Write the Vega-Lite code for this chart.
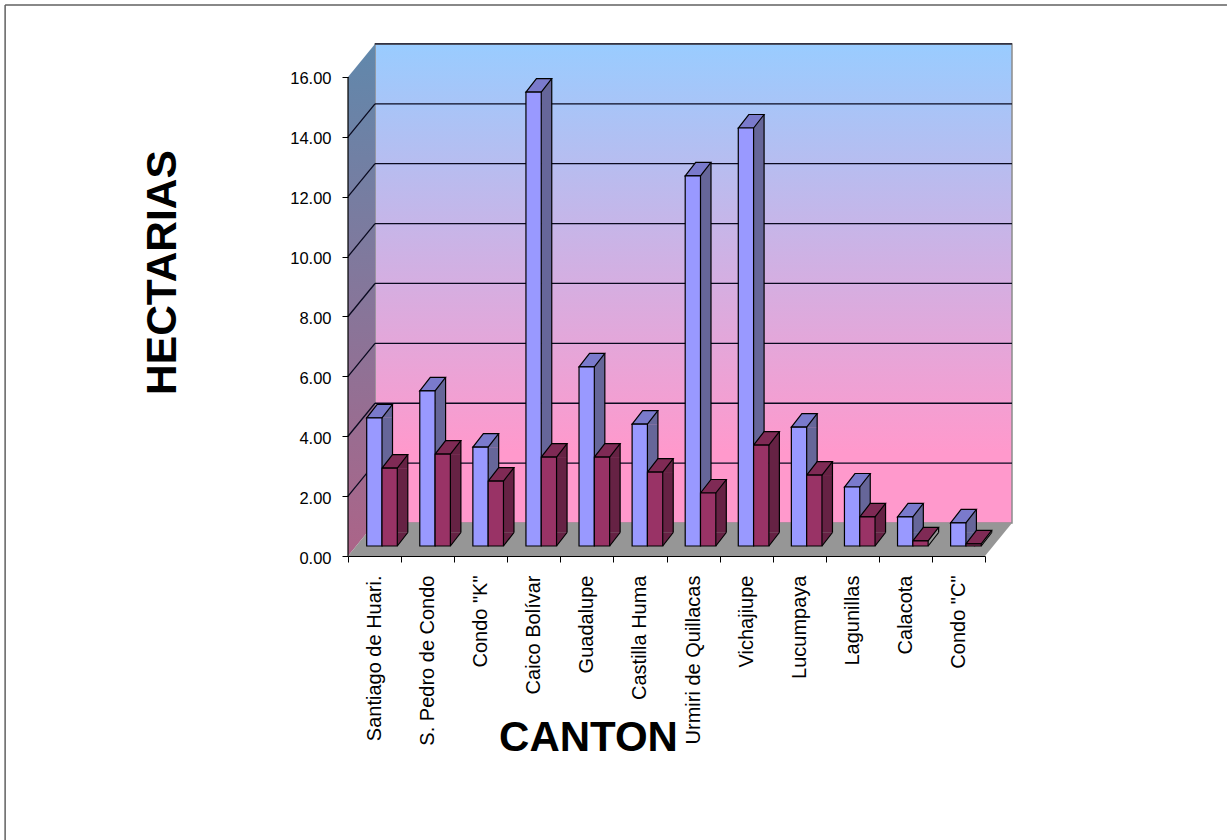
{
"$schema":"https://vega.github.io/schema/vega-lite/v6.json",
"autosize":{"type":"none"},
"width":664,"height":512,
"padding":{"left":348,"top":44,"right":215,"bottom":284},
"background":"white",
"config":{"view":{"stroke":null},"font":"Liberation Sans"},
"datasets":{
"barras":[
{"canton":"Santiago de Huari.","serie":"Serie 1","valor":4.28},{"canton":"Santiago de Huari.","serie":"Serie 2","valor":2.6},
{"canton":"S. Pedro de Condo","serie":"Serie 1","valor":5.18},{"canton":"S. Pedro de Condo","serie":"Serie 2","valor":3.07},
{"canton":"Condo \"K\"","serie":"Serie 1","valor":3.3},{"canton":"Condo \"K\"","serie":"Serie 2","valor":2.17},
{"canton":"Caico Bolívar","serie":"Serie 1","valor":15.16},{"canton":"Caico Bolívar","serie":"Serie 2","valor":2.97},
{"canton":"Guadalupe","serie":"Serie 1","valor":5.98},{"canton":"Guadalupe","serie":"Serie 2","valor":2.97},
{"canton":"Castilla Huma","serie":"Serie 1","valor":4.07},{"canton":"Castilla Huma","serie":"Serie 2","valor":2.47},
{"canton":"Urmiri de Quillacas","serie":"Serie 1","valor":12.36},{"canton":"Urmiri de Quillacas","serie":"Serie 2","valor":1.77},
{"canton":"Vichajiupe","serie":"Serie 1","valor":13.96},{"canton":"Vichajiupe","serie":"Serie 2","valor":3.37},
{"canton":"Lucumpaya","serie":"Serie 1","valor":3.97},{"canton":"Lucumpaya","serie":"Serie 2","valor":2.37},
{"canton":"Lagunillas","serie":"Serie 1","valor":1.97},{"canton":"Lagunillas","serie":"Serie 2","valor":0.97},
{"canton":"Calacota","serie":"Serie 1","valor":0.97},{"canton":"Calacota","serie":"Serie 2","valor":0.17},
{"canton":"Condo \"C\"","serie":"Serie 1","valor":0.77},{"canton":"Condo \"C\"","serie":"Serie 2","valor":0.07}
],
"lineas":[{"h":2},{"h":4},{"h":6},{"h":8},{"h":10},{"h":12},{"h":14},{"h":16}]
},
"layer":[
{"data":{"values":[{"marco":"fondo"}]},
 "layer":[
{"mark":{"type":"rule","color":"#606060","strokeWidth":1.5},
 "encoding":{"x":{"datum":-6.46,"type":"quantitative","scale":{"domain":[0,12.51],"range":[0,664],"nice":false,"zero":false},"axis":null},"y":{"datum":18.4,"type":"quantitative","scale":{"domain":[0,17.1],"range":[512,0],"nice":false,"zero":false},"axis":{"values":[0,2,4,6,8,10,12,14,16],"format":".2f","domain":false,"grid":false,"tickColor":"black","tickSize":6,"labelFont":"Liberation Sans","labelFontSize":16.5,"labelColor":"black","labelPadding":11,"labelOffset":2,"title":"HECTARIAS","titleFont":"Liberation Sans","titleFontSize":42.5,"titleFontWeight":"bold","titleColor":"black","titleX":-186,"titleY":228,"titleBaseline":"middle","titleAlign":"center","zindex":1}},"y2":{"datum":-9.49}}},
{"mark":{"type":"rule","color":"#606060","strokeWidth":1.5},
 "encoding":{"x":{"datum":-6.46,"type":"quantitative"},"x2":{"datum":16.56},"y":{"datum":18.4,"type":"quantitative"}}},
{"mark":{"type":"rect","stroke":"#8c8c8c","strokeWidth":1.5,"fill":{"gradient":"linear","x1":0,"y1":0,"x2":0,"y2":1,"stops":[{"offset":0,"color":"#99CCFF"},{"offset":0.85,"color":"#FF99CC"},{"offset":1,"color":"#FF99CC"}]}},
 "encoding":{"x":{"datum":0.509,"type":"quantitative"},"x2":{"datum":12.51},"y":{"datum":1.1,"type":"quantitative"},"y2":{"datum":17.1}}},
{"mark":{"type":"point","filled":true,"size":4,"opacity":1,"shape":"M0,0L27,-33L27,-512L0,-479Z","fill":{"gradient":"linear","x1":0,"y1":0,"x2":0,"y2":1,"stops":[{"offset":0,"color":"#6088AC"},{"offset":1,"color":"#AC6488"}]}},
 "encoding":{"x":{"datum":0,"type":"quantitative"},"y":{"datum":0,"type":"quantitative"}}},
{"mark":{"type":"point","filled":true,"size":4,"opacity":1,"shape":"M0,0L637,0L664,-33L27,-33Z","fill":"#969696"},
 "encoding":{"x":{"datum":0,"type":"quantitative"},"y":{"datum":0,"type":"quantitative"}}},
{"data":{"name":"lineas"},"mark":{"type":"rule","color":"#0a0a20","strokeWidth":1.3,"yOffset":-33},
 "encoding":{"x":{"datum":0.509,"type":"quantitative"},"x2":{"datum":12.51},"y":{"field":"h","type":"quantitative"}}},
{"data":{"name":"lineas"},"transform":[{"filter":"datum.h<16"}],"mark":{"type":"point","filled":false,"size":4,"opacity":1,"shape":"M0,0L27,-33","stroke":"#0a0a20","strokeWidth":1.3},
 "encoding":{"x":{"datum":0,"type":"quantitative"},"y":{"field":"h","type":"quantitative"}}},
{"mark":{"type":"rule","color":"black","strokeWidth":1.2},
 "encoding":{"x":{"datum":0,"type":"quantitative"},"y":{"datum":0,"type":"quantitative"},"y2":{"datum":16}}}
]},
{"data":{"name":"barras"},
"encoding":{
 "x":{"field":"canton","type":"nominal","sort":null,"scale":{"type":"band","paddingInner":0,"paddingOuter":0,"range":[0,637]},
  "axis":{"orient":"bottom","tickBand":"extent","labelAngle":-90,"labelAlign":"right","labelBaseline":"middle","labelFont":"Liberation Sans","labelFontSize":20,"labelColor":"black","labelPadding":13,"labelLimit":400,"tickColor":"black","tickSize":6,"domainColor":"black","labelOverlap":false,"title":"CANTON","titleFont":"Liberation Sans","titleFontSize":42,"titleFontWeight":"bold","titleColor":"black","titleX":240,"titleY":181,"titleBaseline":"middle","titleAlign":"center","zindex":1}}
},
"layer":[
{"transform":[{"filter":"datum.valor>=0.45"}],"mark":{"type":"bar","width":10.5,"yOffset":-10,"y2Offset":-23.5},
 "encoding":{"xOffset":{"field":"serie","type":"nominal","scale":{"type":"band","paddingInner":0,"paddingOuter":0,"range":[31.6,62.2]}},"y":{"field":"valor","type":"quantitative"},"y2":{"datum":0},"fill":{"condition":{"test":"datum.serie==='Serie 1'","value":"#666699"},"value":"#662244"}}},
{"transform":[{"filter":"datum.valor>=0.45"}],"mark":{"type":"point","filled":true,"size":4,"opacity":1,"yOffset":-10,"shape":"M7.65,0L18.15,-13.5L18.15,0Z"},
 "encoding":{"xOffset":{"field":"serie","type":"nominal","scale":{"type":"band","paddingInner":0,"paddingOuter":0,"range":[18.7,49.3]}},"y":{"field":"valor","type":"quantitative"},"fill":{"condition":{"test":"datum.serie==='Serie 1'","value":"#666699"},"value":"#662244"}}},
{"transform":[{"filter":"datum.valor>=0.45"}],"mark":{"type":"point","filled":true,"size":4,"opacity":1,"yOffset":-10,"shape":"M7.65,0L18.15,-13.5L7.65,-13.5Z"},
 "encoding":{"xOffset":{"field":"serie","type":"nominal","scale":{"type":"band","paddingInner":0,"paddingOuter":0,"range":[18.7,49.3]}},"y":{"datum":0,"type":"quantitative"},"fill":{"condition":{"test":"datum.serie==='Serie 1'","value":"#666699"},"value":"#662244"}}},
{"transform":[{"filter":"datum.valor<0.45"}],"mark":{"type":"point","filled":false,"size":4,"opacity":1,"yOffset":-8,"strokeWidth":3,"stroke":"#662244","shape":"M7.65,0L18.15,-13.5"},
 "encoding":{"xOffset":{"field":"serie","type":"nominal","scale":{"type":"band","paddingInner":0,"paddingOuter":0,"range":[18.7,49.3]}},"y":{"field":"valor","type":"quantitative"}}},
{"mark":{"type":"point","filled":false,"size":4,"opacity":1,"yOffset":-10,"stroke":"black","strokeWidth":1.2,"shape":"M7.65,0L18.15,-13.5"},
 "encoding":{"xOffset":{"field":"serie","type":"nominal","scale":{"type":"band","paddingInner":0,"paddingOuter":0,"range":[18.7,49.3]}},"y":{"datum":0,"type":"quantitative"}}},
{"mark":{"type":"rule","color":"black","strokeWidth":1.2,"yOffset":-23.5,"y2Offset":-23.5},
 "encoding":{"xOffset":{"field":"serie","type":"nominal","scale":{"type":"band","paddingInner":0,"paddingOuter":0,"range":[36.85,67.45]}},"y":{"field":"valor","type":"quantitative"},"y2":{"datum":0}}},
{"mark":{"type":"point","filled":true,"size":4,"opacity":1,"yOffset":-10,"stroke":"black","strokeWidth":1.2,"shape":"M-7.65,0L2.85,-13.5L18.15,-13.5L7.65,0Z"},
 "encoding":{"xOffset":{"field":"serie","type":"nominal","scale":{"type":"band","paddingInner":0,"paddingOuter":0,"range":[18.7,49.3]}},"y":{"field":"valor","type":"quantitative"},"fill":{"condition":{"test":"datum.serie==='Serie 1'","value":"#7A7ACC"},"value":"#7F2A55"}}},
{"mark":{"type":"bar","yOffset":-10,"y2Offset":-10,"stroke":"black","strokeWidth":1.2},
 "encoding":{"xOffset":{"field":"serie","type":"nominal","scale":{"type":"band","paddingInner":0,"paddingOuter":0,"range":[18.7,49.3]}},"y":{"field":"valor","type":"quantitative"},"y2":{"datum":0},"fill":{"condition":{"test":"datum.serie==='Serie 1'","value":"#9999FF"},"value":"#993366"}}}
],
"resolve":{"scale":{"xOffset":"independent"}}
}
],
"resolve":{"scale":{"x":"independent"},"axis":{"x":"independent"}}
}
